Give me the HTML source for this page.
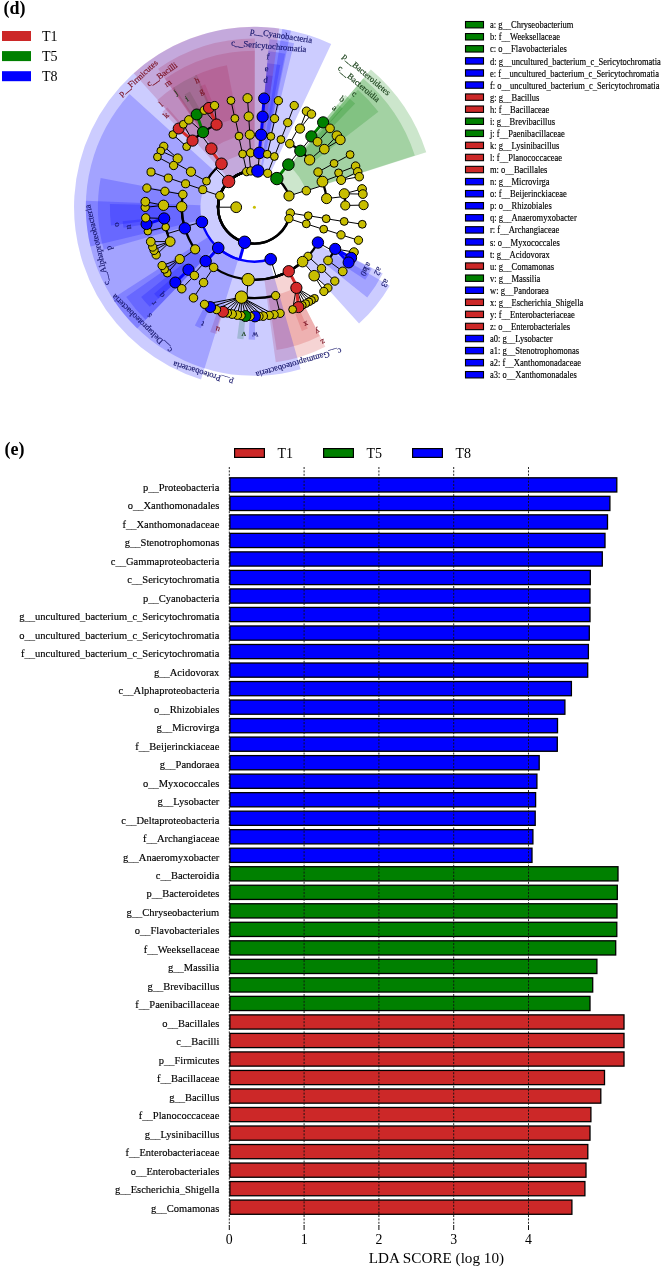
<!DOCTYPE html>
<html><head><meta charset="utf-8"><style>
html,body{margin:0;padding:0;background:#fff;}
body{width:663px;height:1267px;overflow:hidden;}
svg{display:block;}
text{font-family:"Liberation Serif",serif;}
.bl{font-size:10.5px;stroke:#000;stroke-width:0.15px;}
.tk{font-size:13.8px;}
.ax{font-size:15.2px;}
.lg{font-size:14px;}
.pl{font-size:18px;font-weight:bold;}
.rl{font-size:9.6px;stroke:#000;stroke-width:0.15px;}
.ll{font-size:14px;}
.cl{font-size:8.6px;}
</style></head><body>
<svg width="663" height="1267" viewBox="0 0 663 1267">
<rect width="663" height="1267" fill="#fff"/>
<path d="M337.78,104.23A132.5,132.5 0 0 1 342.72,108.42L326.85,126.17A108.7,108.7 0 0 0 322.81,122.72Z" fill="#008000" fill-opacity="0.2"/>
<path d="M266.18,75.22A132.5,132.5 0 0 1 272.61,75.96L269.34,99.53A108.7,108.7 0 0 0 264.06,98.93Z" fill="#0000ff" fill-opacity="0.2"/>
<path d="M199.24,86.73A132.5,132.5 0 0 1 205.19,84.18L214.03,106.27A108.7,108.7 0 0 0 209.15,108.37Z" fill="#d42a2a" fill-opacity="0.2"/>
<path d="M184.38,94.71A132.5,132.5 0 0 1 189.96,91.43L201.54,112.22A108.7,108.7 0 0 0 196.96,114.92Z" fill="#008000" fill-opacity="0.2"/>
<path d="M162.52,111.73A132.5,132.5 0 0 1 167.30,107.35L182.94,125.29A108.7,108.7 0 0 0 179.03,128.88Z" fill="#d42a2a" fill-opacity="0.2"/>
<path d="M123.50,227.70A132.5,132.5 0 0 1 122.65,221.28L146.32,218.75A108.7,108.7 0 0 0 147.01,224.02Z" fill="#0000ff" fill-opacity="0.2"/>
<path d="M158.45,298.57A132.5,132.5 0 0 1 154.10,293.78L172.11,278.23A108.7,108.7 0 0 0 175.68,282.16Z" fill="#0000ff" fill-opacity="0.2"/>
<path d="M200.72,328.34A132.5,132.5 0 0 1 194.87,325.57L205.56,304.31A108.7,108.7 0 0 0 210.36,306.58Z" fill="#0000ff" fill-opacity="0.2"/>
<path d="M216.32,334.11A132.5,132.5 0 0 1 210.17,332.10L218.12,309.67A108.7,108.7 0 0 0 223.16,311.32Z" fill="#d42a2a" fill-opacity="0.2"/>
<path d="M243.54,339.25A132.5,132.5 0 0 1 237.11,338.57L240.21,314.97A108.7,108.7 0 0 0 245.49,315.53Z" fill="#008000" fill-opacity="0.2"/>
<path d="M255.09,339.70A132.5,132.5 0 0 1 248.62,339.57L249.66,315.80A108.7,108.7 0 0 0 254.97,315.90Z" fill="#0000ff" fill-opacity="0.2"/>
<path d="M307.87,328.43A132.5,132.5 0 0 1 301.88,330.90L293.35,308.68A108.7,108.7 0 0 0 298.27,306.66Z" fill="#d42a2a" fill-opacity="0.2"/>
<path d="M368.68,274.25A132.5,132.5 0 0 1 365.27,279.75L345.36,266.72A108.7,108.7 0 0 0 348.16,262.21Z" fill="#0000ff" fill-opacity="0.2"/>
<path d="M371.82,268.59A132.5,132.5 0 0 1 368.68,274.25L348.16,262.21A108.7,108.7 0 0 0 350.73,257.56Z" fill="#0000ff" fill-opacity="0.2"/>
<path d="M345.34,94.90A144.5,144.5 0 0 1 355.14,103.61L317.42,142.39A90.4,90.4 0 0 0 311.29,136.95Z" fill="#008000" fill-opacity="0.2"/>
<path d="M267.25,63.27A144.5,144.5 0 0 1 280.24,65.03L270.56,118.26A90.4,90.4 0 0 0 262.44,117.16Z" fill="#0000ff" fill-opacity="0.2"/>
<path d="M194.82,75.55A144.5,144.5 0 0 1 226.95,65.33L237.23,118.45A90.4,90.4 0 0 0 217.13,124.84Z" fill="#d42a2a" fill-opacity="0.2"/>
<path d="M172.76,87.97A144.5,144.5 0 0 1 196.78,74.68L218.35,124.30A90.4,90.4 0 0 0 203.33,132.61Z" fill="#008000" fill-opacity="0.2"/>
<path d="M157.24,100.24A144.5,144.5 0 0 1 174.12,87.05L204.18,132.04A90.4,90.4 0 0 0 193.62,140.28Z" fill="#d42a2a" fill-opacity="0.2"/>
<path d="M111.06,225.44A144.5,144.5 0 0 1 109.93,204.05L164.02,205.23A90.4,90.4 0 0 0 164.72,218.61Z" fill="#0000ff" fill-opacity="0.2"/>
<path d="M149.76,306.85A144.5,144.5 0 0 1 141.16,296.96L183.55,263.35A90.4,90.4 0 0 0 188.93,269.54Z" fill="#0000ff" fill-opacity="0.2"/>
<path d="M319.89,336.01A144.5,144.5 0 0 1 276.63,349.98L268.31,296.52A90.4,90.4 0 0 0 295.37,287.78Z" fill="#d42a2a" fill-opacity="0.2"/>
<path d="M382.75,273.59A144.5,144.5 0 0 1 367.25,297.45L325.00,263.66A90.4,90.4 0 0 0 334.69,248.73Z" fill="#0000ff" fill-opacity="0.2"/>
<path d="M357.90,89.81A156.5,156.5 0 0 1 378.39,111.71L311.60,163.15A72.2,72.2 0 0 0 302.15,153.04Z" fill="#008000" fill-opacity="0.2"/>
<path d="M268.31,51.32A156.5,156.5 0 0 1 285.07,53.73L268.55,136.40A72.2,72.2 0 0 0 260.82,135.29Z" fill="#0000ff" fill-opacity="0.2"/>
<path d="M164.97,78.77A156.5,156.5 0 0 1 254.81,50.70L254.59,135.00A72.2,72.2 0 0 0 213.14,147.95Z" fill="#d42a2a" fill-opacity="0.2"/>
<path d="M103.78,249.68A156.5,156.5 0 0 1 100.65,178.01L183.47,193.73A72.2,72.2 0 0 0 184.91,226.80Z" fill="#0000ff" fill-opacity="0.2"/>
<path d="M145.59,319.68A156.5,156.5 0 0 1 126.28,297.08L195.29,248.66A72.2,72.2 0 0 0 204.20,259.09Z" fill="#0000ff" fill-opacity="0.2"/>
<path d="M325.33,346.70A156.5,156.5 0 0 1 275.77,362.23L264.26,278.72A72.2,72.2 0 0 0 287.12,271.56Z" fill="#d42a2a" fill-opacity="0.2"/>
<path d="M389.73,285.80A156.5,156.5 0 0 1 359.02,323.59L302.66,260.90A72.2,72.2 0 0 0 316.83,243.46Z" fill="#0000ff" fill-opacity="0.2"/>
<path d="M363.22,78.42A168.6,168.6 0 0 1 414.84,155.38L305.79,190.60A54.0,54.0 0 0 0 289.25,165.96Z" fill="#008000" fill-opacity="0.2"/>
<path d="M269.39,39.27A168.6,168.6 0 0 1 294.04,43.33L267.10,154.71A54.0,54.0 0 0 0 259.20,153.41Z" fill="#0000ff" fill-opacity="0.2"/>
<path d="M158.06,68.84A168.6,168.6 0 0 1 254.84,38.60L254.54,153.20A54.0,54.0 0 0 0 223.54,162.88Z" fill="#d42a2a" fill-opacity="0.2"/>
<path d="M90.46,246.56A168.6,168.6 0 0 1 129.50,93.95L214.40,170.93A54.0,54.0 0 0 0 201.89,219.81Z" fill="#0000ff" fill-opacity="0.2"/>
<path d="M137.17,328.38A168.6,168.6 0 0 1 112.60,298.41L208.98,236.41A54.0,54.0 0 0 0 216.85,246.01Z" fill="#0000ff" fill-opacity="0.2"/>
<path d="M300.59,369.35A168.6,168.6 0 0 1 85.92,200.73L200.44,205.13A54.0,54.0 0 0 0 269.19,259.13Z" fill="#0000ff" fill-opacity="0.2"/>
<path d="M370.84,69.41A180.4,180.4 0 0 1 426.26,152.35L288.60,196.29A35.9,35.9 0 0 0 277.57,179.78Z" fill="#008000" fill-opacity="0.2"/>
<path d="M282.31,28.97A180.4,180.4 0 0 1 331.21,43.97L269.69,174.72A35.9,35.9 0 0 0 259.95,171.73Z" fill="#0000ff" fill-opacity="0.2"/>
<path d="M133.69,73.14A180.4,180.4 0 0 1 279.19,28.51L259.33,171.64A35.9,35.9 0 0 0 230.38,180.52Z" fill="#d42a2a" fill-opacity="0.2"/>
<path d="M201.05,379.53A180.4,180.4 0 0 1 290.98,30.55L261.68,172.05A35.9,35.9 0 0 0 243.78,241.49Z" fill="#0000ff" fill-opacity="0.2"/>
<path d="M218.00,207.20A36.4,36.4 0 0 1 219.86,195.71" fill="none" stroke="#000" stroke-width="2.4"/>
<path d="M218.00,207.20A36.4,36.4 0 0 1 228.62,181.51" fill="none" stroke="#000" stroke-width="2.4"/>
<path d="M218.00,207.20A36.4,36.4 0 0 1 246.65,171.64" fill="none" stroke="#000" stroke-width="2.4"/>
<path d="M218.00,207.20A36.4,36.4 0 0 1 250.78,170.98" fill="none" stroke="#000" stroke-width="2.4"/>
<path d="M218.00,207.20A36.4,36.4 0 0 1 257.83,170.96" fill="none" stroke="#000" stroke-width="2.4"/>
<path d="M218.00,207.20A36.4,36.4 0 0 1 267.68,173.31" fill="none" stroke="#000" stroke-width="2.4"/>
<path d="M218.00,207.20A36.4,36.4 0 0 1 276.86,178.56" fill="none" stroke="#000" stroke-width="2.4"/>
<path d="M218.00,207.20A36.4,36.4 0 0 1 289.02,195.95" fill="none" stroke="#000" stroke-width="2.4"/>
<path d="M290.33,213.02A36.4,36.4 0 0 1 218.00,207.20" fill="none" stroke="#000" stroke-width="2.4"/>
<path d="M288.96,218.63A36.4,36.4 0 0 1 218.00,207.20" fill="none" stroke="#000" stroke-width="2.4"/>
<path d="M244.61,242.26A36.4,36.4 0 0 1 218.00,207.20" fill="none" stroke="#000" stroke-width="2.4"/>
<line x1="236.20" y1="207.20" x2="218.00" y2="207.20" stroke="#000" stroke-width="1.0"/>
<path d="M202.69,190.00A54.5,54.5 0 0 1 202.81,189.64" fill="none" stroke="#000" stroke-width="2.4"/>
<line x1="219.86" y1="195.71" x2="202.69" y2="190.00" stroke="#000" stroke-width="1.0"/>
<line x1="202.81" y1="189.64" x2="185.58" y2="183.77" stroke="#000" stroke-width="1.0"/>
<path d="M168.30,178.06A90.9,90.9 0 0 1 168.35,177.91" fill="none" stroke="#000" stroke-width="2.3"/>
<line x1="185.58" y1="183.77" x2="168.35" y2="177.91" stroke="#000" stroke-width="1.0"/>
<line x1="168.30" y1="178.06" x2="151.03" y2="172.01" stroke="#000" stroke-width="1.0"/>
<path d="M206.50,181.19A54.5,54.5 0 0 1 215.80,168.73" fill="none" stroke="#000" stroke-width="2.4"/>
<path d="M215.80,168.73A54.5,54.5 0 0 1 221.45,163.79" fill="none" stroke="#000" stroke-width="2.4"/>
<line x1="228.62" y1="181.51" x2="215.80" y2="168.73" stroke="#000" stroke-width="1.0"/>
<path d="M190.51,172.51A72.7,72.7 0 0 1 190.94,171.73" fill="none" stroke="#000" stroke-width="2.3"/>
<line x1="206.50" y1="181.19" x2="190.51" y2="172.51" stroke="#000" stroke-width="1.0"/>
<path d="M175.05,162.85A90.9,90.9 0 0 1 177.65,158.49" fill="none" stroke="#000" stroke-width="2.3"/>
<path d="M173.62,165.51A90.9,90.9 0 0 1 175.05,162.85" fill="none" stroke="#000" stroke-width="2.3"/>
<line x1="190.94" y1="171.73" x2="175.05" y2="162.85" stroke="#000" stroke-width="1.0"/>
<line x1="177.65" y1="158.49" x2="163.76" y2="146.29" stroke="#000" stroke-width="1.0"/>
<line x1="177.65" y1="158.49" x2="160.80" y2="150.96" stroke="#000" stroke-width="1.0"/>
<line x1="173.62" y1="165.51" x2="157.45" y2="156.95" stroke="#000" stroke-width="1.0"/>
<path d="M210.45,149.29A72.7,72.7 0 0 1 211.36,148.61" fill="none" stroke="#d42a2a" stroke-width="2.3"/>
<line x1="221.45" y1="163.79" x2="210.45" y2="149.29" stroke="#d42a2a" stroke-width="3.0"/>
<path d="M186.64,146.61A90.9,90.9 0 0 1 200.59,133.94" fill="none" stroke="#000" stroke-width="2.3"/>
<path d="M192.52,140.61A90.9,90.9 0 0 1 200.59,133.94" fill="none" stroke="#000" stroke-width="2.3"/>
<path d="M200.59,133.94A90.9,90.9 0 0 1 203.04,132.20" fill="none" stroke="#000" stroke-width="2.3"/>
<path d="M200.59,133.94A90.9,90.9 0 0 1 216.56,124.55" fill="none" stroke="#000" stroke-width="2.3"/>
<line x1="211.36" y1="148.61" x2="200.59" y2="133.94" stroke="#000" stroke-width="1.0"/>
<line x1="186.64" y1="146.61" x2="172.87" y2="134.56" stroke="#000" stroke-width="1.0"/>
<line x1="192.52" y1="140.61" x2="178.68" y2="128.52" stroke="#d42a2a" stroke-width="3.0"/>
<line x1="192.52" y1="140.61" x2="183.34" y2="124.29" stroke="#000" stroke-width="1.0"/>
<line x1="203.04" y1="132.20" x2="188.83" y2="119.87" stroke="#000" stroke-width="1.0"/>
<line x1="203.04" y1="132.20" x2="196.69" y2="114.49" stroke="#008000" stroke-width="3.0"/>
<line x1="216.56" y1="124.55" x2="204.32" y2="110.16" stroke="#000" stroke-width="1.0"/>
<line x1="216.56" y1="124.55" x2="208.94" y2="107.91" stroke="#d42a2a" stroke-width="3.0"/>
<line x1="216.56" y1="124.55" x2="214.56" y2="105.53" stroke="#000" stroke-width="1.0"/>
<path d="M242.60,153.99A54.5,54.5 0 0 1 242.79,153.95" fill="none" stroke="#000" stroke-width="2.4"/>
<line x1="246.65" y1="171.64" x2="242.79" y2="153.95" stroke="#000" stroke-width="1.0"/>
<path d="M238.66,136.22A72.7,72.7 0 0 1 239.04,136.14" fill="none" stroke="#000" stroke-width="2.3"/>
<line x1="242.60" y1="153.99" x2="238.66" y2="136.22" stroke="#000" stroke-width="1.0"/>
<path d="M234.88,118.42A90.9,90.9 0 0 1 235.19,118.35" fill="none" stroke="#000" stroke-width="2.3"/>
<line x1="239.04" y1="136.14" x2="235.19" y2="118.35" stroke="#000" stroke-width="1.0"/>
<line x1="234.88" y1="118.42" x2="230.95" y2="100.55" stroke="#000" stroke-width="1.0"/>
<path d="M248.99,152.97A54.5,54.5 0 0 1 250.60,152.83" fill="none" stroke="#000" stroke-width="2.4"/>
<line x1="250.78" y1="170.98" x2="248.99" y2="152.97" stroke="#000" stroke-width="1.0"/>
<path d="M249.33,134.68A72.7,72.7 0 0 1 249.84,134.64" fill="none" stroke="#000" stroke-width="2.3"/>
<line x1="250.60" y1="152.83" x2="249.33" y2="134.68" stroke="#000" stroke-width="1.0"/>
<line x1="249.84" y1="134.64" x2="248.69" y2="116.48" stroke="#000" stroke-width="1.0"/>
<line x1="248.69" y1="116.48" x2="247.54" y2="98.22" stroke="#000" stroke-width="1.0"/>
<path d="M259.34,152.92A54.5,54.5 0 0 1 259.53,152.94" fill="none" stroke="#000" stroke-width="2.4"/>
<path d="M259.53,152.94A54.5,54.5 0 0 1 267.22,154.23" fill="none" stroke="#000" stroke-width="2.4"/>
<line x1="257.83" y1="170.96" x2="259.53" y2="152.94" stroke="#000" stroke-width="1.0"/>
<path d="M260.99,134.80A72.7,72.7 0 0 1 261.12,134.81" fill="none" stroke="#0000ff" stroke-width="2.3"/>
<line x1="259.34" y1="152.92" x2="260.99" y2="134.80" stroke="#0000ff" stroke-width="3.0"/>
<path d="M262.64,116.67A90.9,90.9 0 0 1 262.80,116.69" fill="none" stroke="#0000ff" stroke-width="2.3"/>
<line x1="261.12" y1="134.81" x2="262.80" y2="116.69" stroke="#0000ff" stroke-width="3.0"/>
<line x1="262.64" y1="116.67" x2="264.11" y2="98.43" stroke="#0000ff" stroke-width="3.0"/>
<path d="M270.88,136.39A72.7,72.7 0 0 1 271.49,136.54" fill="none" stroke="#000" stroke-width="2.3"/>
<line x1="267.22" y1="154.23" x2="271.49" y2="136.54" stroke="#000" stroke-width="1.0"/>
<path d="M274.54,118.56A90.9,90.9 0 0 1 275.00,118.67" fill="none" stroke="#000" stroke-width="2.3"/>
<line x1="270.88" y1="136.39" x2="275.00" y2="118.67" stroke="#000" stroke-width="1.0"/>
<line x1="274.54" y1="118.56" x2="278.41" y2="100.67" stroke="#000" stroke-width="1.0"/>
<path d="M274.29,156.46A54.5,54.5 0 0 1 274.37,156.49" fill="none" stroke="#000" stroke-width="2.4"/>
<line x1="267.68" y1="173.31" x2="274.29" y2="156.46" stroke="#000" stroke-width="1.0"/>
<path d="M280.93,139.51A72.7,72.7 0 0 1 281.04,139.56" fill="none" stroke="#000" stroke-width="2.3"/>
<line x1="274.37" y1="156.49" x2="281.04" y2="139.56" stroke="#000" stroke-width="1.0"/>
<path d="M287.57,122.57A90.9,90.9 0 0 1 287.71,122.63" fill="none" stroke="#000" stroke-width="2.3"/>
<line x1="280.93" y1="139.51" x2="287.57" y2="122.57" stroke="#000" stroke-width="1.0"/>
<line x1="287.71" y1="122.63" x2="294.24" y2="105.53" stroke="#000" stroke-width="1.0"/>
<path d="M288.03,164.31A54.5,54.5 0 0 1 288.40,164.61" fill="none" stroke="#008000" stroke-width="2.4"/>
<line x1="276.86" y1="178.56" x2="288.03" y2="164.31" stroke="#008000" stroke-width="3.0"/>
<path d="M289.76,143.68A72.7,72.7 0 0 1 299.76,150.38" fill="none" stroke="#000" stroke-width="2.3"/>
<path d="M299.76,150.38A72.7,72.7 0 0 1 300.35,150.86" fill="none" stroke="#000" stroke-width="2.3"/>
<path d="M299.76,150.38A72.7,72.7 0 0 1 309.60,159.89" fill="none" stroke="#000" stroke-width="2.3"/>
<line x1="288.40" y1="164.61" x2="299.76" y2="150.38" stroke="#000" stroke-width="1.0"/>
<path d="M298.61,127.77A90.9,90.9 0 0 1 299.99,128.56" fill="none" stroke="#000" stroke-width="2.3"/>
<line x1="289.76" y1="143.68" x2="298.61" y2="127.77" stroke="#000" stroke-width="1.0"/>
<line x1="299.99" y1="128.56" x2="306.51" y2="111.23" stroke="#000" stroke-width="1.0"/>
<line x1="299.99" y1="128.56" x2="311.46" y2="114.09" stroke="#000" stroke-width="1.0"/>
<path d="M311.36,136.36A90.9,90.9 0 0 1 311.85,136.76" fill="none" stroke="#000" stroke-width="2.3"/>
<path d="M311.85,136.76A90.9,90.9 0 0 1 317.54,141.81" fill="none" stroke="#000" stroke-width="2.3"/>
<line x1="300.35" y1="150.86" x2="311.85" y2="136.76" stroke="#000" stroke-width="1.0"/>
<line x1="311.36" y1="136.36" x2="323.12" y2="122.34" stroke="#008000" stroke-width="3.0"/>
<line x1="317.54" y1="141.81" x2="329.98" y2="128.38" stroke="#000" stroke-width="1.0"/>
<path d="M323.42,148.04A90.9,90.9 0 0 1 324.34,149.14" fill="none" stroke="#000" stroke-width="2.3"/>
<line x1="309.60" y1="159.89" x2="323.42" y2="148.04" stroke="#000" stroke-width="1.0"/>
<line x1="324.34" y1="149.14" x2="336.94" y2="135.70" stroke="#000" stroke-width="1.0"/>
<line x1="324.34" y1="149.14" x2="340.33" y2="139.82" stroke="#000" stroke-width="1.0"/>
<path d="M306.23,190.36A54.5,54.5 0 0 1 306.35,190.72" fill="none" stroke="#000" stroke-width="2.4"/>
<line x1="289.02" y1="195.95" x2="306.23" y2="190.36" stroke="#000" stroke-width="1.0"/>
<path d="M318.05,172.07A72.7,72.7 0 0 1 323.70,185.22" fill="none" stroke="#000" stroke-width="2.3"/>
<path d="M322.45,181.62A72.7,72.7 0 0 1 323.70,185.22" fill="none" stroke="#000" stroke-width="2.3"/>
<path d="M323.70,185.22A72.7,72.7 0 0 1 326.59,198.59" fill="none" stroke="#000" stroke-width="2.3"/>
<line x1="306.35" y1="190.72" x2="323.70" y2="185.22" stroke="#000" stroke-width="1.0"/>
<path d="M333.98,163.27A90.9,90.9 0 0 1 334.06,163.41" fill="none" stroke="#000" stroke-width="2.3"/>
<line x1="318.05" y1="172.07" x2="333.98" y2="163.27" stroke="#000" stroke-width="1.0"/>
<line x1="334.06" y1="163.41" x2="350.09" y2="154.59" stroke="#000" stroke-width="1.0"/>
<path d="M338.56,172.85A90.9,90.9 0 0 1 339.49,175.22" fill="none" stroke="#000" stroke-width="2.3"/>
<path d="M339.49,175.22A90.9,90.9 0 0 1 341.14,180.02" fill="none" stroke="#000" stroke-width="2.3"/>
<line x1="322.45" y1="181.62" x2="339.49" y2="175.22" stroke="#000" stroke-width="1.0"/>
<line x1="338.56" y1="172.85" x2="355.58" y2="166.12" stroke="#000" stroke-width="1.0"/>
<line x1="341.14" y1="180.02" x2="357.71" y2="171.83" stroke="#000" stroke-width="1.0"/>
<line x1="341.14" y1="180.02" x2="359.26" y2="176.73" stroke="#000" stroke-width="1.0"/>
<path d="M344.30,193.76A90.9,90.9 0 0 1 344.66,196.44" fill="none" stroke="#000" stroke-width="2.3"/>
<path d="M344.66,196.44A90.9,90.9 0 0 1 345.28,205.45" fill="none" stroke="#000" stroke-width="2.3"/>
<line x1="326.59" y1="198.59" x2="344.66" y2="196.44" stroke="#000" stroke-width="1.0"/>
<line x1="344.30" y1="193.76" x2="362.07" y2="188.99" stroke="#000" stroke-width="1.0"/>
<line x1="344.30" y1="193.76" x2="362.81" y2="194.08" stroke="#000" stroke-width="1.0"/>
<line x1="345.28" y1="205.45" x2="363.58" y2="205.10" stroke="#000" stroke-width="1.0"/>
<path d="M308.23,215.73A54.5,54.5 0 0 1 308.20,215.91" fill="none" stroke="#000" stroke-width="2.4"/>
<line x1="290.33" y1="213.02" x2="308.20" y2="215.91" stroke="#000" stroke-width="1.0"/>
<path d="M326.20,218.57A72.7,72.7 0 0 1 326.18,218.70" fill="none" stroke="#000" stroke-width="2.3"/>
<line x1="308.23" y1="215.73" x2="326.20" y2="218.57" stroke="#000" stroke-width="1.0"/>
<path d="M344.18,221.42A90.9,90.9 0 0 1 344.16,221.58" fill="none" stroke="#000" stroke-width="2.3"/>
<line x1="326.18" y1="218.70" x2="344.16" y2="221.58" stroke="#000" stroke-width="1.0"/>
<line x1="344.18" y1="221.42" x2="362.26" y2="224.28" stroke="#000" stroke-width="1.0"/>
<path d="M306.29,223.86A54.5,54.5 0 0 1 306.14,224.31" fill="none" stroke="#000" stroke-width="2.4"/>
<line x1="288.96" y1="218.63" x2="306.14" y2="224.31" stroke="#000" stroke-width="1.0"/>
<path d="M323.70,229.18A72.7,72.7 0 0 1 323.62,229.42" fill="none" stroke="#000" stroke-width="2.3"/>
<line x1="306.29" y1="223.86" x2="323.62" y2="229.42" stroke="#000" stroke-width="1.0"/>
<path d="M341.05,234.69A90.9,90.9 0 0 1 341.00,234.84" fill="none" stroke="#000" stroke-width="2.3"/>
<line x1="323.70" y1="229.18" x2="341.05" y2="234.69" stroke="#000" stroke-width="1.0"/>
<line x1="341.00" y1="234.84" x2="358.49" y2="240.22" stroke="#000" stroke-width="1.0"/>
<path d="M270.70,259.21A54.5,54.5 0 0 1 239.74,259.69" fill="none" stroke="#0000ff" stroke-width="2.4"/>
<path d="M239.74,259.69A54.5,54.5 0 0 1 218.22,247.95" fill="none" stroke="#0000ff" stroke-width="2.4"/>
<path d="M239.74,259.69A54.5,54.5 0 0 1 201.93,221.95" fill="none" stroke="#0000ff" stroke-width="2.4"/>
<line x1="244.61" y1="242.26" x2="239.74" y2="259.69" stroke="#0000ff" stroke-width="3.0"/>
<path d="M317.92,242.56A72.7,72.7 0 0 1 276.14,276.57" fill="none" stroke="#000" stroke-width="2.3"/>
<path d="M308.00,256.32A72.7,72.7 0 0 1 276.14,276.57" fill="none" stroke="#000" stroke-width="2.3"/>
<path d="M302.57,261.65A72.7,72.7 0 0 1 276.14,276.57" fill="none" stroke="#000" stroke-width="2.3"/>
<path d="M288.75,271.27A72.7,72.7 0 0 1 276.14,276.57" fill="none" stroke="#000" stroke-width="2.3"/>
<path d="M276.14,276.57A72.7,72.7 0 0 1 248.19,279.63" fill="none" stroke="#000" stroke-width="2.3"/>
<path d="M276.14,276.57A72.7,72.7 0 0 1 213.64,267.40" fill="none" stroke="#000" stroke-width="2.3"/>
<line x1="270.70" y1="259.21" x2="276.14" y2="276.57" stroke="#000" stroke-width="1.0"/>
<path d="M335.18,248.89A90.9,90.9 0 0 1 333.83,251.41" fill="none" stroke="#000" stroke-width="2.3"/>
<path d="M333.83,251.41A90.9,90.9 0 0 1 328.03,260.50" fill="none" stroke="#000" stroke-width="2.3"/>
<line x1="317.92" y1="242.56" x2="333.83" y2="251.41" stroke="#000" stroke-width="1.0"/>
<line x1="335.18" y1="248.89" x2="353.93" y2="252.14" stroke="#000" stroke-width="1.0"/>
<line x1="335.18" y1="248.89" x2="351.17" y2="257.79" stroke="#0000ff" stroke-width="3.0"/>
<line x1="335.18" y1="248.89" x2="348.59" y2="262.46" stroke="#0000ff" stroke-width="3.0"/>
<line x1="328.03" y1="260.50" x2="342.74" y2="271.39" stroke="#000" stroke-width="1.0"/>
<path d="M321.53,268.49A90.9,90.9 0 0 1 321.42,268.61" fill="none" stroke="#000" stroke-width="2.3"/>
<line x1="308.00" y1="256.32" x2="321.42" y2="268.61" stroke="#000" stroke-width="1.0"/>
<line x1="321.53" y1="268.49" x2="334.78" y2="281.11" stroke="#000" stroke-width="1.0"/>
<path d="M314.63,275.28A90.9,90.9 0 0 1 314.16,275.70" fill="none" stroke="#000" stroke-width="2.3"/>
<line x1="302.57" y1="261.65" x2="314.63" y2="275.28" stroke="#000" stroke-width="1.0"/>
<line x1="314.16" y1="275.70" x2="327.89" y2="287.97" stroke="#000" stroke-width="1.0"/>
<line x1="314.16" y1="275.70" x2="323.86" y2="291.46" stroke="#000" stroke-width="1.0"/>
<path d="M297.35,287.31A90.9,90.9 0 0 1 296.37,287.83" fill="none" stroke="#d42a2a" stroke-width="2.3"/>
<line x1="288.75" y1="271.27" x2="297.35" y2="287.31" stroke="#d42a2a" stroke-width="3.0"/>
<line x1="296.37" y1="287.83" x2="314.51" y2="298.37" stroke="#000" stroke-width="1.0"/>
<line x1="296.37" y1="287.83" x2="311.46" y2="300.31" stroke="#000" stroke-width="1.0"/>
<line x1="296.37" y1="287.83" x2="308.83" y2="301.87" stroke="#000" stroke-width="1.0"/>
<line x1="296.37" y1="287.83" x2="305.67" y2="303.62" stroke="#000" stroke-width="1.0"/>
<line x1="296.37" y1="287.83" x2="302.27" y2="305.35" stroke="#000" stroke-width="1.0"/>
<line x1="296.37" y1="287.83" x2="298.47" y2="307.11" stroke="#d42a2a" stroke-width="3.0"/>
<line x1="296.37" y1="287.83" x2="292.64" y2="309.48" stroke="#000" stroke-width="1.0"/>
<path d="M275.62,295.59A90.9,90.9 0 0 1 246.64,297.77" fill="none" stroke="#000" stroke-width="2.3"/>
<path d="M246.64,297.77A90.9,90.9 0 0 1 241.44,297.17" fill="none" stroke="#000" stroke-width="2.3"/>
<line x1="248.19" y1="279.63" x2="246.64" y2="297.77" stroke="#000" stroke-width="1.0"/>
<line x1="275.62" y1="295.59" x2="280.08" y2="313.34" stroke="#000" stroke-width="1.0"/>
<line x1="241.44" y1="297.17" x2="274.11" y2="314.61" stroke="#000" stroke-width="1.0"/>
<line x1="241.44" y1="297.17" x2="269.22" y2="315.39" stroke="#000" stroke-width="1.0"/>
<line x1="241.44" y1="297.17" x2="263.16" y2="316.05" stroke="#000" stroke-width="1.0"/>
<line x1="241.44" y1="297.17" x2="258.97" y2="316.30" stroke="#000" stroke-width="1.0"/>
<line x1="241.44" y1="297.17" x2="254.97" y2="316.40" stroke="#000" stroke-width="1.0"/>
<line x1="241.44" y1="297.17" x2="250.21" y2="316.32" stroke="#000" stroke-width="1.0"/>
<line x1="241.44" y1="297.17" x2="245.45" y2="316.03" stroke="#000" stroke-width="1.0"/>
<line x1="241.44" y1="297.17" x2="241.09" y2="315.59" stroke="#000" stroke-width="1.0"/>
<line x1="241.44" y1="297.17" x2="237.32" y2="315.06" stroke="#000" stroke-width="1.0"/>
<line x1="241.44" y1="297.17" x2="232.07" y2="314.09" stroke="#000" stroke-width="1.0"/>
<line x1="241.44" y1="297.17" x2="227.43" y2="313.02" stroke="#000" stroke-width="1.0"/>
<line x1="241.44" y1="297.17" x2="223.02" y2="311.79" stroke="#000" stroke-width="1.0"/>
<line x1="241.44" y1="297.17" x2="216.51" y2="309.62" stroke="#000" stroke-width="1.0"/>
<line x1="241.44" y1="297.17" x2="210.16" y2="307.04" stroke="#000" stroke-width="1.0"/>
<line x1="241.44" y1="297.17" x2="204.48" y2="304.32" stroke="#000" stroke-width="1.0"/>
<path d="M203.57,282.56A90.9,90.9 0 0 1 203.44,282.47" fill="none" stroke="#000" stroke-width="2.3"/>
<line x1="213.64" y1="267.40" x2="203.44" y2="282.47" stroke="#000" stroke-width="1.0"/>
<line x1="203.57" y1="282.56" x2="193.49" y2="297.84" stroke="#000" stroke-width="1.0"/>
<path d="M206.13,261.56A72.7,72.7 0 0 1 205.66,261.14" fill="none" stroke="#0000ff" stroke-width="2.3"/>
<line x1="218.22" y1="247.95" x2="206.13" y2="261.56" stroke="#0000ff" stroke-width="3.0"/>
<path d="M193.46,274.65A90.9,90.9 0 0 1 188.46,269.77" fill="none" stroke="#000" stroke-width="2.3"/>
<path d="M194.41,275.49A90.9,90.9 0 0 1 193.46,274.65" fill="none" stroke="#000" stroke-width="2.3"/>
<line x1="205.66" y1="261.14" x2="193.46" y2="274.65" stroke="#000" stroke-width="1.0"/>
<line x1="188.46" y1="269.77" x2="175.32" y2="282.51" stroke="#0000ff" stroke-width="3.0"/>
<line x1="194.41" y1="275.49" x2="181.76" y2="288.73" stroke="#000" stroke-width="1.0"/>
<path d="M195.14,249.31A72.7,72.7 0 0 1 184.41,226.87" fill="none" stroke="#000" stroke-width="2.3"/>
<path d="M184.84,228.33A72.7,72.7 0 0 1 184.41,226.87" fill="none" stroke="#000" stroke-width="2.3"/>
<path d="M184.41,226.87A72.7,72.7 0 0 1 181.70,206.69" fill="none" stroke="#000" stroke-width="2.3"/>
<path d="M184.41,226.87A72.7,72.7 0 0 1 182.83,194.45" fill="none" stroke="#000" stroke-width="2.3"/>
<line x1="201.93" y1="221.95" x2="184.41" y2="226.87" stroke="#000" stroke-width="1.0"/>
<path d="M180.30,259.86A90.9,90.9 0 0 1 179.76,259.08" fill="none" stroke="#000" stroke-width="2.3"/>
<line x1="195.14" y1="249.31" x2="180.30" y2="259.86" stroke="#000" stroke-width="1.0"/>
<line x1="179.76" y1="259.08" x2="167.30" y2="273.07" stroke="#000" stroke-width="1.0"/>
<line x1="179.76" y1="259.08" x2="164.62" y2="269.37" stroke="#000" stroke-width="1.0"/>
<line x1="179.76" y1="259.08" x2="162.10" y2="265.55" stroke="#000" stroke-width="1.0"/>
<path d="M170.24,241.55A90.9,90.9 0 0 1 167.43,233.62" fill="none" stroke="#000" stroke-width="2.3"/>
<path d="M167.43,233.62A90.9,90.9 0 0 1 165.69,227.03" fill="none" stroke="#000" stroke-width="2.3"/>
<path d="M167.43,233.62A90.9,90.9 0 0 1 164.20,218.44" fill="none" stroke="#000" stroke-width="2.3"/>
<line x1="184.84" y1="228.33" x2="167.43" y2="233.62" stroke="#000" stroke-width="1.0"/>
<line x1="170.24" y1="241.55" x2="156.17" y2="254.90" stroke="#000" stroke-width="1.0"/>
<line x1="170.24" y1="241.55" x2="154.11" y2="250.39" stroke="#000" stroke-width="1.0"/>
<line x1="170.24" y1="241.55" x2="152.73" y2="247.04" stroke="#000" stroke-width="1.0"/>
<line x1="170.24" y1="241.55" x2="150.78" y2="241.67" stroke="#000" stroke-width="1.0"/>
<line x1="165.69" y1="227.03" x2="147.87" y2="231.21" stroke="#000" stroke-width="1.0"/>
<line x1="164.20" y1="218.44" x2="146.51" y2="224.09" stroke="#0000ff" stroke-width="3.0"/>
<line x1="164.20" y1="218.44" x2="145.72" y2="217.86" stroke="#000" stroke-width="1.0"/>
<path d="M163.50,206.57A90.9,90.9 0 0 1 163.52,205.30" fill="none" stroke="#000" stroke-width="2.3"/>
<line x1="181.70" y1="206.69" x2="163.50" y2="206.57" stroke="#000" stroke-width="1.0"/>
<line x1="163.52" y1="205.30" x2="145.20" y2="207.39" stroke="#000" stroke-width="1.0"/>
<line x1="163.52" y1="205.30" x2="145.34" y2="201.68" stroke="#000" stroke-width="1.0"/>
<line x1="182.83" y1="194.45" x2="164.91" y2="191.26" stroke="#000" stroke-width="1.0"/>
<line x1="164.91" y1="191.26" x2="146.89" y2="188.05" stroke="#000" stroke-width="1.0"/>
<circle cx="151.03" cy="172.01" r="4.02" fill="#c8be00" stroke="#000" stroke-width="1.0"/>
<circle cx="163.76" cy="146.29" r="4.14" fill="#c8be00" stroke="#000" stroke-width="1.0"/>
<circle cx="160.80" cy="150.96" r="3.91" fill="#c8be00" stroke="#000" stroke-width="1.0"/>
<circle cx="157.45" cy="156.95" r="3.91" fill="#c8be00" stroke="#000" stroke-width="1.0"/>
<circle cx="172.87" cy="134.56" r="3.91" fill="#c8be00" stroke="#000" stroke-width="1.0"/>
<circle cx="178.68" cy="128.52" r="5.50" fill="#d42a2a" stroke="#000" stroke-width="1.0"/>
<circle cx="183.34" cy="124.29" r="3.91" fill="#c8be00" stroke="#000" stroke-width="1.0"/>
<circle cx="188.83" cy="119.87" r="4.25" fill="#c8be00" stroke="#000" stroke-width="1.0"/>
<circle cx="196.69" cy="114.49" r="5.50" fill="#008000" stroke="#000" stroke-width="1.0"/>
<circle cx="204.32" cy="110.16" r="4.25" fill="#c8be00" stroke="#000" stroke-width="1.0"/>
<circle cx="208.94" cy="107.91" r="5.50" fill="#d42a2a" stroke="#000" stroke-width="1.0"/>
<circle cx="214.56" cy="105.53" r="4.14" fill="#c8be00" stroke="#000" stroke-width="1.0"/>
<circle cx="230.95" cy="100.55" r="3.91" fill="#c8be00" stroke="#000" stroke-width="1.0"/>
<circle cx="247.54" cy="98.22" r="4.60" fill="#c8be00" stroke="#000" stroke-width="1.0"/>
<circle cx="264.11" cy="98.43" r="5.50" fill="#0000ff" stroke="#000" stroke-width="1.0"/>
<circle cx="278.41" cy="100.67" r="4.14" fill="#c8be00" stroke="#000" stroke-width="1.0"/>
<circle cx="294.24" cy="105.53" r="4.14" fill="#c8be00" stroke="#000" stroke-width="1.0"/>
<circle cx="306.51" cy="111.23" r="4.25" fill="#c8be00" stroke="#000" stroke-width="1.0"/>
<circle cx="311.46" cy="114.09" r="4.25" fill="#c8be00" stroke="#000" stroke-width="1.0"/>
<circle cx="323.12" cy="122.34" r="5.60" fill="#008000" stroke="#000" stroke-width="1.0"/>
<circle cx="329.98" cy="128.38" r="4.37" fill="#c8be00" stroke="#000" stroke-width="1.0"/>
<circle cx="336.94" cy="135.70" r="4.83" fill="#c8be00" stroke="#000" stroke-width="1.0"/>
<circle cx="340.33" cy="139.82" r="4.83" fill="#c8be00" stroke="#000" stroke-width="1.0"/>
<circle cx="350.09" cy="154.59" r="3.91" fill="#c8be00" stroke="#000" stroke-width="1.0"/>
<circle cx="355.58" cy="166.12" r="4.25" fill="#c8be00" stroke="#000" stroke-width="1.0"/>
<circle cx="357.71" cy="171.83" r="4.25" fill="#c8be00" stroke="#000" stroke-width="1.0"/>
<circle cx="359.26" cy="176.73" r="4.25" fill="#c8be00" stroke="#000" stroke-width="1.0"/>
<circle cx="362.07" cy="188.99" r="4.37" fill="#c8be00" stroke="#000" stroke-width="1.0"/>
<circle cx="362.81" cy="194.08" r="4.37" fill="#c8be00" stroke="#000" stroke-width="1.0"/>
<circle cx="363.58" cy="205.10" r="4.60" fill="#c8be00" stroke="#000" stroke-width="1.0"/>
<circle cx="362.26" cy="224.28" r="3.91" fill="#c8be00" stroke="#000" stroke-width="1.0"/>
<circle cx="358.49" cy="240.22" r="4.14" fill="#c8be00" stroke="#000" stroke-width="1.0"/>
<circle cx="353.93" cy="252.14" r="4.37" fill="#c8be00" stroke="#000" stroke-width="1.0"/>
<circle cx="351.17" cy="257.79" r="5.50" fill="#0000ff" stroke="#000" stroke-width="1.0"/>
<circle cx="348.59" cy="262.46" r="5.50" fill="#0000ff" stroke="#000" stroke-width="1.0"/>
<circle cx="342.74" cy="271.39" r="4.37" fill="#c8be00" stroke="#000" stroke-width="1.0"/>
<circle cx="334.78" cy="281.11" r="4.14" fill="#c8be00" stroke="#000" stroke-width="1.0"/>
<circle cx="327.89" cy="287.97" r="4.14" fill="#c8be00" stroke="#000" stroke-width="1.0"/>
<circle cx="323.86" cy="291.46" r="4.14" fill="#c8be00" stroke="#000" stroke-width="1.0"/>
<circle cx="314.51" cy="298.37" r="3.91" fill="#c8be00" stroke="#000" stroke-width="1.0"/>
<circle cx="311.46" cy="300.31" r="3.91" fill="#c8be00" stroke="#000" stroke-width="1.0"/>
<circle cx="308.83" cy="301.87" r="3.91" fill="#c8be00" stroke="#000" stroke-width="1.0"/>
<circle cx="305.67" cy="303.62" r="3.91" fill="#c8be00" stroke="#000" stroke-width="1.0"/>
<circle cx="302.27" cy="305.35" r="3.91" fill="#c8be00" stroke="#000" stroke-width="1.0"/>
<circle cx="298.47" cy="307.11" r="5.50" fill="#d42a2a" stroke="#000" stroke-width="1.0"/>
<circle cx="292.64" cy="309.48" r="3.91" fill="#c8be00" stroke="#000" stroke-width="1.0"/>
<circle cx="280.08" cy="313.34" r="4.14" fill="#c8be00" stroke="#000" stroke-width="1.0"/>
<circle cx="274.11" cy="314.61" r="4.14" fill="#c8be00" stroke="#000" stroke-width="1.0"/>
<circle cx="269.22" cy="315.39" r="4.14" fill="#c8be00" stroke="#000" stroke-width="1.0"/>
<circle cx="263.16" cy="316.05" r="4.37" fill="#c8be00" stroke="#000" stroke-width="1.0"/>
<circle cx="258.97" cy="316.30" r="4.14" fill="#c8be00" stroke="#000" stroke-width="1.0"/>
<circle cx="254.97" cy="316.40" r="5.50" fill="#0000ff" stroke="#000" stroke-width="1.0"/>
<circle cx="250.21" cy="316.32" r="4.14" fill="#c8be00" stroke="#000" stroke-width="1.0"/>
<circle cx="245.45" cy="316.03" r="5.50" fill="#008000" stroke="#000" stroke-width="1.0"/>
<circle cx="241.09" cy="315.59" r="4.14" fill="#c8be00" stroke="#000" stroke-width="1.0"/>
<circle cx="237.32" cy="315.06" r="4.37" fill="#c8be00" stroke="#000" stroke-width="1.0"/>
<circle cx="232.07" cy="314.09" r="4.37" fill="#c8be00" stroke="#000" stroke-width="1.0"/>
<circle cx="227.43" cy="313.02" r="4.14" fill="#c8be00" stroke="#000" stroke-width="1.0"/>
<circle cx="223.02" cy="311.79" r="5.50" fill="#d42a2a" stroke="#000" stroke-width="1.0"/>
<circle cx="216.51" cy="309.62" r="4.14" fill="#c8be00" stroke="#000" stroke-width="1.0"/>
<circle cx="210.16" cy="307.04" r="5.50" fill="#0000ff" stroke="#000" stroke-width="1.0"/>
<circle cx="204.48" cy="304.32" r="4.14" fill="#c8be00" stroke="#000" stroke-width="1.0"/>
<circle cx="193.49" cy="297.84" r="4.25" fill="#c8be00" stroke="#000" stroke-width="1.0"/>
<circle cx="175.32" cy="282.51" r="5.50" fill="#0000ff" stroke="#000" stroke-width="1.0"/>
<circle cx="181.76" cy="288.73" r="4.25" fill="#c8be00" stroke="#000" stroke-width="1.0"/>
<circle cx="167.30" cy="273.07" r="3.91" fill="#c8be00" stroke="#000" stroke-width="1.0"/>
<circle cx="164.62" cy="269.37" r="3.91" fill="#c8be00" stroke="#000" stroke-width="1.0"/>
<circle cx="162.10" cy="265.55" r="4.14" fill="#c8be00" stroke="#000" stroke-width="1.0"/>
<circle cx="156.17" cy="254.90" r="4.14" fill="#c8be00" stroke="#000" stroke-width="1.0"/>
<circle cx="154.11" cy="250.39" r="4.14" fill="#c8be00" stroke="#000" stroke-width="1.0"/>
<circle cx="152.73" cy="247.04" r="4.14" fill="#c8be00" stroke="#000" stroke-width="1.0"/>
<circle cx="150.78" cy="241.67" r="4.37" fill="#c8be00" stroke="#000" stroke-width="1.0"/>
<circle cx="147.87" cy="231.21" r="3.79" fill="#c8be00" stroke="#000" stroke-width="1.0"/>
<circle cx="146.51" cy="224.09" r="5.50" fill="#0000ff" stroke="#000" stroke-width="1.0"/>
<circle cx="145.72" cy="217.86" r="4.14" fill="#c8be00" stroke="#000" stroke-width="1.0"/>
<circle cx="145.20" cy="207.39" r="4.14" fill="#c8be00" stroke="#000" stroke-width="1.0"/>
<circle cx="145.34" cy="201.68" r="4.37" fill="#c8be00" stroke="#000" stroke-width="1.0"/>
<circle cx="146.89" cy="188.05" r="4.14" fill="#c8be00" stroke="#000" stroke-width="1.0"/>
<circle cx="168.30" cy="178.06" r="4.02" fill="#c8be00" stroke="#000" stroke-width="1.0"/>
<circle cx="177.65" cy="158.49" r="4.60" fill="#c8be00" stroke="#000" stroke-width="1.0"/>
<circle cx="173.62" cy="165.51" r="4.14" fill="#c8be00" stroke="#000" stroke-width="1.0"/>
<circle cx="186.64" cy="146.61" r="3.91" fill="#c8be00" stroke="#000" stroke-width="1.0"/>
<circle cx="192.52" cy="140.61" r="5.60" fill="#d42a2a" stroke="#000" stroke-width="1.0"/>
<circle cx="203.04" cy="132.20" r="5.60" fill="#008000" stroke="#000" stroke-width="1.0"/>
<circle cx="216.56" cy="124.55" r="5.60" fill="#d42a2a" stroke="#000" stroke-width="1.0"/>
<circle cx="234.88" cy="118.42" r="3.91" fill="#c8be00" stroke="#000" stroke-width="1.0"/>
<circle cx="248.69" cy="116.48" r="4.60" fill="#c8be00" stroke="#000" stroke-width="1.0"/>
<circle cx="262.64" cy="116.67" r="5.60" fill="#0000ff" stroke="#000" stroke-width="1.0"/>
<circle cx="274.54" cy="118.56" r="4.14" fill="#c8be00" stroke="#000" stroke-width="1.0"/>
<circle cx="287.71" cy="122.63" r="4.14" fill="#c8be00" stroke="#000" stroke-width="1.0"/>
<circle cx="299.99" cy="128.56" r="4.60" fill="#c8be00" stroke="#000" stroke-width="1.0"/>
<circle cx="311.36" cy="136.36" r="5.60" fill="#008000" stroke="#000" stroke-width="1.0"/>
<circle cx="317.54" cy="141.81" r="4.37" fill="#c8be00" stroke="#000" stroke-width="1.0"/>
<circle cx="324.34" cy="149.14" r="4.83" fill="#c8be00" stroke="#000" stroke-width="1.0"/>
<circle cx="334.06" cy="163.41" r="3.91" fill="#c8be00" stroke="#000" stroke-width="1.0"/>
<circle cx="338.56" cy="172.85" r="3.91" fill="#c8be00" stroke="#000" stroke-width="1.0"/>
<circle cx="341.14" cy="180.02" r="4.48" fill="#c8be00" stroke="#000" stroke-width="1.0"/>
<circle cx="344.30" cy="193.76" r="5.06" fill="#c8be00" stroke="#000" stroke-width="1.0"/>
<circle cx="345.28" cy="205.45" r="4.60" fill="#c8be00" stroke="#000" stroke-width="1.0"/>
<circle cx="344.18" cy="221.42" r="3.91" fill="#c8be00" stroke="#000" stroke-width="1.0"/>
<circle cx="341.00" cy="234.84" r="4.14" fill="#c8be00" stroke="#000" stroke-width="1.0"/>
<circle cx="335.18" cy="248.89" r="5.60" fill="#0000ff" stroke="#000" stroke-width="1.0"/>
<circle cx="328.03" cy="260.50" r="4.37" fill="#c8be00" stroke="#000" stroke-width="1.0"/>
<circle cx="321.53" cy="268.49" r="4.14" fill="#c8be00" stroke="#000" stroke-width="1.0"/>
<circle cx="314.16" cy="275.70" r="5.29" fill="#c8be00" stroke="#000" stroke-width="1.0"/>
<circle cx="296.37" cy="287.83" r="5.60" fill="#d42a2a" stroke="#000" stroke-width="1.0"/>
<circle cx="275.62" cy="295.59" r="4.14" fill="#c8be00" stroke="#000" stroke-width="1.0"/>
<circle cx="241.44" cy="297.17" r="6.21" fill="#c8be00" stroke="#000" stroke-width="1.0"/>
<circle cx="203.57" cy="282.56" r="4.25" fill="#c8be00" stroke="#000" stroke-width="1.0"/>
<circle cx="188.46" cy="269.77" r="5.60" fill="#0000ff" stroke="#000" stroke-width="1.0"/>
<circle cx="194.41" cy="275.49" r="4.25" fill="#c8be00" stroke="#000" stroke-width="1.0"/>
<circle cx="179.76" cy="259.08" r="4.60" fill="#c8be00" stroke="#000" stroke-width="1.0"/>
<circle cx="170.24" cy="241.55" r="4.83" fill="#c8be00" stroke="#000" stroke-width="1.0"/>
<circle cx="165.69" cy="227.03" r="3.79" fill="#c8be00" stroke="#000" stroke-width="1.0"/>
<circle cx="164.20" cy="218.44" r="5.60" fill="#0000ff" stroke="#000" stroke-width="1.0"/>
<circle cx="163.52" cy="205.30" r="5.17" fill="#c8be00" stroke="#000" stroke-width="1.0"/>
<circle cx="164.91" cy="191.26" r="4.14" fill="#c8be00" stroke="#000" stroke-width="1.0"/>
<circle cx="185.58" cy="183.77" r="4.02" fill="#c8be00" stroke="#000" stroke-width="1.0"/>
<circle cx="190.94" cy="171.73" r="4.60" fill="#c8be00" stroke="#000" stroke-width="1.0"/>
<circle cx="211.36" cy="148.61" r="5.70" fill="#d42a2a" stroke="#000" stroke-width="1.0"/>
<circle cx="239.04" cy="136.14" r="3.91" fill="#c8be00" stroke="#000" stroke-width="1.0"/>
<circle cx="249.84" cy="134.64" r="4.60" fill="#c8be00" stroke="#000" stroke-width="1.0"/>
<circle cx="261.12" cy="134.81" r="5.70" fill="#0000ff" stroke="#000" stroke-width="1.0"/>
<circle cx="270.88" cy="136.39" r="3.91" fill="#c8be00" stroke="#000" stroke-width="1.0"/>
<circle cx="280.93" cy="139.51" r="3.91" fill="#c8be00" stroke="#000" stroke-width="1.0"/>
<circle cx="289.76" cy="143.68" r="4.25" fill="#c8be00" stroke="#000" stroke-width="1.0"/>
<circle cx="300.35" cy="150.86" r="5.70" fill="#008000" stroke="#000" stroke-width="1.0"/>
<circle cx="309.60" cy="159.89" r="5.17" fill="#c8be00" stroke="#000" stroke-width="1.0"/>
<circle cx="318.05" cy="172.07" r="4.25" fill="#c8be00" stroke="#000" stroke-width="1.0"/>
<circle cx="322.45" cy="181.62" r="5.40" fill="#c8be00" stroke="#000" stroke-width="1.0"/>
<circle cx="326.59" cy="198.59" r="5.06" fill="#c8be00" stroke="#000" stroke-width="1.0"/>
<circle cx="326.18" cy="218.70" r="3.91" fill="#c8be00" stroke="#000" stroke-width="1.0"/>
<circle cx="323.70" cy="229.18" r="3.91" fill="#c8be00" stroke="#000" stroke-width="1.0"/>
<circle cx="317.92" cy="242.56" r="5.70" fill="#0000ff" stroke="#000" stroke-width="1.0"/>
<circle cx="308.00" cy="256.32" r="4.14" fill="#c8be00" stroke="#000" stroke-width="1.0"/>
<circle cx="302.57" cy="261.65" r="5.29" fill="#c8be00" stroke="#000" stroke-width="1.0"/>
<circle cx="288.75" cy="271.27" r="5.70" fill="#d42a2a" stroke="#000" stroke-width="1.0"/>
<circle cx="248.19" cy="279.63" r="6.21" fill="#c8be00" stroke="#000" stroke-width="1.0"/>
<circle cx="213.64" cy="267.40" r="4.25" fill="#c8be00" stroke="#000" stroke-width="1.0"/>
<circle cx="205.66" cy="261.14" r="5.70" fill="#0000ff" stroke="#000" stroke-width="1.0"/>
<circle cx="195.14" cy="249.31" r="4.60" fill="#c8be00" stroke="#000" stroke-width="1.0"/>
<circle cx="184.84" cy="228.33" r="5.70" fill="#0000ff" stroke="#000" stroke-width="1.0"/>
<circle cx="181.70" cy="206.69" r="5.17" fill="#c8be00" stroke="#000" stroke-width="1.0"/>
<circle cx="182.83" cy="194.45" r="4.25" fill="#c8be00" stroke="#000" stroke-width="1.0"/>
<circle cx="202.81" cy="189.64" r="4.02" fill="#c8be00" stroke="#000" stroke-width="1.0"/>
<circle cx="206.50" cy="181.19" r="3.91" fill="#c8be00" stroke="#000" stroke-width="1.0"/>
<circle cx="221.45" cy="163.79" r="5.80" fill="#d42a2a" stroke="#000" stroke-width="1.0"/>
<circle cx="242.60" cy="153.99" r="3.91" fill="#c8be00" stroke="#000" stroke-width="1.0"/>
<circle cx="250.60" cy="152.83" r="4.14" fill="#c8be00" stroke="#000" stroke-width="1.0"/>
<circle cx="259.34" cy="152.92" r="5.80" fill="#0000ff" stroke="#000" stroke-width="1.0"/>
<circle cx="267.22" cy="154.23" r="3.91" fill="#c8be00" stroke="#000" stroke-width="1.0"/>
<circle cx="274.37" cy="156.49" r="3.91" fill="#c8be00" stroke="#000" stroke-width="1.0"/>
<circle cx="288.40" cy="164.61" r="5.80" fill="#008000" stroke="#000" stroke-width="1.0"/>
<circle cx="306.35" cy="190.72" r="4.25" fill="#c8be00" stroke="#000" stroke-width="1.0"/>
<circle cx="308.23" cy="215.73" r="3.91" fill="#c8be00" stroke="#000" stroke-width="1.0"/>
<circle cx="306.29" cy="223.86" r="3.91" fill="#c8be00" stroke="#000" stroke-width="1.0"/>
<circle cx="270.70" cy="259.21" r="5.80" fill="#0000ff" stroke="#000" stroke-width="1.0"/>
<circle cx="218.22" cy="247.95" r="5.80" fill="#0000ff" stroke="#000" stroke-width="1.0"/>
<circle cx="201.93" cy="221.95" r="5.80" fill="#0000ff" stroke="#000" stroke-width="1.0"/>
<circle cx="219.86" cy="195.71" r="4.25" fill="#c8be00" stroke="#000" stroke-width="1.0"/>
<circle cx="228.62" cy="181.51" r="6.20" fill="#d42a2a" stroke="#000" stroke-width="1.0"/>
<circle cx="246.65" cy="171.64" r="4.14" fill="#c8be00" stroke="#000" stroke-width="1.0"/>
<circle cx="250.78" cy="170.98" r="4.14" fill="#c8be00" stroke="#000" stroke-width="1.0"/>
<circle cx="257.83" cy="170.96" r="6.20" fill="#0000ff" stroke="#000" stroke-width="1.0"/>
<circle cx="267.68" cy="173.31" r="4.14" fill="#c8be00" stroke="#000" stroke-width="1.0"/>
<circle cx="276.86" cy="178.56" r="6.20" fill="#008000" stroke="#000" stroke-width="1.0"/>
<circle cx="289.02" cy="195.95" r="5.06" fill="#c8be00" stroke="#000" stroke-width="1.0"/>
<circle cx="290.33" cy="213.02" r="4.14" fill="#c8be00" stroke="#000" stroke-width="1.0"/>
<circle cx="288.96" cy="218.63" r="4.14" fill="#c8be00" stroke="#000" stroke-width="1.0"/>
<circle cx="244.61" cy="242.26" r="6.20" fill="#0000ff" stroke="#000" stroke-width="1.0"/>
<circle cx="236.20" cy="207.20" r="5.40" fill="#c8be00" stroke="#000" stroke-width="1.0"/>
<circle cx="254.4" cy="207.2" r="1.5" fill="#c8be00"/>
<text x="366.71" y="74.30" transform="rotate(40.2 366.71 74.30)" text-anchor="middle" dominant-baseline="central" class="cl" fill="#143c14" stroke="#143c14" stroke-width="0.15">p__Bacteroidetes</text>
<text x="358.96" y="83.47" transform="rotate(40.2 358.96 83.47)" text-anchor="middle" dominant-baseline="central" class="cl" fill="#143c14" stroke="#143c14" stroke-width="0.15">c__Bacteroidia</text>
<text x="354.59" y="93.56" transform="rotate(41.4 354.59 93.56)" text-anchor="middle" dominant-baseline="central" class="cl" fill="#143c14" stroke="#143c14" stroke-width="0.15">c</text>
<text x="342.19" y="98.79" transform="rotate(39.0 342.19 98.79)" text-anchor="middle" dominant-baseline="central" class="cl" fill="#143c14" stroke="#143c14" stroke-width="0.15">b</text>
<text x="334.95" y="107.73" transform="rotate(39.0 334.95 107.73)" text-anchor="middle" dominant-baseline="central" class="cl" fill="#143c14" stroke="#143c14" stroke-width="0.15">a</text>
<text x="281.32" y="35.29" transform="rotate(8.9 281.32 35.29)" text-anchor="middle" dominant-baseline="central" class="cl" fill="#14146a" stroke="#14146a" stroke-width="0.15">p__Cyanobacteria</text>
<text x="268.80" y="45.84" transform="rotate(5.1 268.80 45.84)" text-anchor="middle" dominant-baseline="central" class="cl" fill="#14146a" stroke="#14146a" stroke-width="0.15">c__Sericytochromatia</text>
<text x="267.87" y="56.30" transform="rotate(5.1 267.87 56.30)" text-anchor="middle" dominant-baseline="central" class="cl" fill="#14146a" stroke="#14146a" stroke-width="0.15">f</text>
<text x="266.80" y="68.25" transform="rotate(5.1 266.80 68.25)" text-anchor="middle" dominant-baseline="central" class="cl" fill="#14146a" stroke="#14146a" stroke-width="0.15">e</text>
<text x="265.78" y="79.71" transform="rotate(5.1 265.78 79.71)" text-anchor="middle" dominant-baseline="central" class="cl" fill="#14146a" stroke="#14146a" stroke-width="0.15">d</text>
<text x="137.97" y="77.89" transform="rotate(-42.0 137.97 77.89)" text-anchor="middle" dominant-baseline="central" class="cl" fill="#7a1020" stroke="#7a1020" stroke-width="0.15">p__Firmicutes</text>
<text x="161.83" y="74.25" transform="rotate(-34.9 161.83 74.25)" text-anchor="middle" dominant-baseline="central" class="cl" fill="#7a1020" stroke="#7a1020" stroke-width="0.15">c__Bacilli</text>
<text x="167.83" y="82.87" transform="rotate(-34.9 167.83 82.87)" text-anchor="middle" dominant-baseline="central" class="cl" fill="#7a1020" stroke="#7a1020" stroke-width="0.15">m</text>
<text x="196.88" y="80.11" transform="rotate(-24.3 196.88 80.11)" text-anchor="middle" dominant-baseline="central" class="cl" fill="#7a1020" stroke="#7a1020" stroke-width="0.15">h</text>
<text x="201.12" y="90.82" transform="rotate(-24.6 201.12 90.82)" text-anchor="middle" dominant-baseline="central" class="cl" fill="#7a1020" stroke="#7a1020" stroke-width="0.15">g</text>
<text x="175.59" y="92.10" transform="rotate(-34.4 175.59 92.10)" text-anchor="middle" dominant-baseline="central" class="cl" fill="#143c14" stroke="#143c14" stroke-width="0.15">j</text>
<text x="186.76" y="98.53" transform="rotate(-31.9 186.76 98.53)" text-anchor="middle" dominant-baseline="central" class="cl" fill="#143c14" stroke="#143c14" stroke-width="0.15">i</text>
<text x="160.60" y="103.94" transform="rotate(-42.2 160.60 103.94)" text-anchor="middle" dominant-baseline="central" class="cl" fill="#7a1020" stroke="#7a1020" stroke-width="0.15">l</text>
<text x="165.64" y="114.97" transform="rotate(-43.9 165.64 114.97)" text-anchor="middle" dominant-baseline="central" class="cl" fill="#7a1020" stroke="#7a1020" stroke-width="0.15">k</text>
<text x="202.95" y="373.42" transform="rotate(197.2 202.95 373.42)" text-anchor="middle" dominant-baseline="central" class="cl" fill="#14146a" stroke="#14146a" stroke-width="0.15">p__Proteobacteria</text>
<text x="96.88" y="245.02" transform="rotate(256.5 96.88 245.02)" text-anchor="middle" dominant-baseline="central" class="cl" fill="#14146a" stroke="#14146a" stroke-width="0.15">c__Alphaproteobacteria</text>
<text x="108.59" y="248.32" transform="rotate(254.2 108.59 248.32)" text-anchor="middle" dominant-baseline="central" class="cl" fill="#14146a" stroke="#14146a" stroke-width="0.15">p</text>
<text x="116.02" y="224.80" transform="rotate(262.8 116.02 224.80)" text-anchor="middle" dominant-baseline="central" class="cl" fill="#14146a" stroke="#14146a" stroke-width="0.15">o</text>
<text x="127.94" y="227.00" transform="rotate(261.1 127.94 227.00)" text-anchor="middle" dominant-baseline="central" class="cl" fill="#14146a" stroke="#14146a" stroke-width="0.15">n</text>
<text x="141.76" y="323.63" transform="rotate(224.1 141.76 323.63)" text-anchor="middle" dominant-baseline="central" class="cl" fill="#14146a" stroke="#14146a" stroke-width="0.15">c__Deltaproteobacteria</text>
<text x="149.06" y="316.09" transform="rotate(224.1 149.06 316.09)" text-anchor="middle" dominant-baseline="central" class="cl" fill="#14146a" stroke="#14146a" stroke-width="0.15">s</text>
<text x="153.38" y="303.40" transform="rotate(226.4 153.38 303.40)" text-anchor="middle" dominant-baseline="central" class="cl" fill="#14146a" stroke="#14146a" stroke-width="0.15">r</text>
<text x="161.71" y="295.47" transform="rotate(226.4 161.71 295.47)" text-anchor="middle" dominant-baseline="central" class="cl" fill="#14146a" stroke="#14146a" stroke-width="0.15">q</text>
<text x="298.78" y="363.00" transform="rotate(164.1 298.78 363.00)" text-anchor="middle" dominant-baseline="central" class="cl" fill="#14146a" stroke="#14146a" stroke-width="0.15">c__Gammaproteobacteria</text>
<text x="202.54" y="324.22" transform="rotate(203.9 202.54 324.22)" text-anchor="middle" dominant-baseline="central" class="cl" fill="#14146a" stroke="#14146a" stroke-width="0.15">t</text>
<text x="217.62" y="329.80" transform="rotate(196.7 217.62 329.80)" text-anchor="middle" dominant-baseline="central" class="cl" fill="#7a1020" stroke="#7a1020" stroke-width="0.15">u</text>
<text x="243.91" y="334.77" transform="rotate(184.7 243.91 334.77)" text-anchor="middle" dominant-baseline="central" class="cl" fill="#143c14" stroke="#143c14" stroke-width="0.15">v</text>
<text x="255.07" y="335.20" transform="rotate(179.7 255.07 335.20)" text-anchor="middle" dominant-baseline="central" class="cl" fill="#14146a" stroke="#14146a" stroke-width="0.15">w</text>
<text x="323.06" y="342.25" transform="rotate(153.1 323.06 342.25)" text-anchor="middle" dominant-baseline="central" class="cl" fill="#7a1020" stroke="#7a1020" stroke-width="0.15">z</text>
<text x="317.62" y="331.55" transform="rotate(153.1 317.62 331.55)" text-anchor="middle" dominant-baseline="central" class="cl" fill="#7a1020" stroke="#7a1020" stroke-width="0.15">y</text>
<text x="306.05" y="324.31" transform="rotate(156.2 306.05 324.31)" text-anchor="middle" dominant-baseline="central" class="cl" fill="#7a1020" stroke="#7a1020" stroke-width="0.15">x</text>
<text x="385.40" y="283.29" transform="rotate(120.2 385.40 283.29)" text-anchor="middle" dominant-baseline="central" class="cl" fill="#14146a" stroke="#14146a" stroke-width="0.15">a3</text>
<text x="378.31" y="271.29" transform="rotate(117.3 378.31 271.29)" text-anchor="middle" dominant-baseline="central" class="cl" fill="#14146a" stroke="#14146a" stroke-width="0.15">a2</text>
<text x="364.80" y="271.97" transform="rotate(120.4 364.80 271.97)" text-anchor="middle" dominant-baseline="central" class="cl" fill="#14146a" stroke="#14146a" stroke-width="0.15">a0</text>
<text x="367.83" y="266.50" transform="rotate(117.6 367.83 266.50)" text-anchor="middle" dominant-baseline="central" class="cl" fill="#14146a" stroke="#14146a" stroke-width="0.15">a1</text>
<rect x="2" y="31.0" width="29" height="10" fill="#cc2828"/>
<text x="42" y="41.0" class="ll">T1</text>
<rect x="2" y="51.1" width="29" height="10" fill="#008000"/>
<text x="42" y="61.1" class="ll">T5</text>
<rect x="2" y="71.2" width="29" height="10" fill="#0000ff"/>
<text x="42" y="81.2" class="ll">T8</text>
<text x="3.6" y="14" class="pl">(d)</text>
<rect x="465.5" y="21.50" width="18" height="6.4" fill="#008000" stroke="#000" stroke-width="1.1"/>
<text transform="translate(490,28.30) scale(0.888,1)" class="rl">a: g__Chryseobacterium</text>
<rect x="465.5" y="33.57" width="18" height="6.4" fill="#008000" stroke="#000" stroke-width="1.1"/>
<text transform="translate(490,40.37) scale(0.888,1)" class="rl">b: f__Weeksellaceae</text>
<rect x="465.5" y="45.64" width="18" height="6.4" fill="#008000" stroke="#000" stroke-width="1.1"/>
<text transform="translate(490,52.44) scale(0.888,1)" class="rl">c: o__Flavobacteriales</text>
<rect x="465.5" y="57.71" width="18" height="6.4" fill="#0000ff" stroke="#000" stroke-width="1.1"/>
<text transform="translate(490,64.51) scale(0.888,1)" class="rl">d: g__uncultured_bacterium_c_Sericytochromatia</text>
<rect x="465.5" y="69.78" width="18" height="6.4" fill="#0000ff" stroke="#000" stroke-width="1.1"/>
<text transform="translate(490,76.58) scale(0.888,1)" class="rl">e: f__uncultured_bacterium_c_Sericytochromatia</text>
<rect x="465.5" y="81.85" width="18" height="6.4" fill="#0000ff" stroke="#000" stroke-width="1.1"/>
<text transform="translate(490,88.65) scale(0.888,1)" class="rl">f: o__uncultured_bacterium_c_Sericytochromatia</text>
<rect x="465.5" y="93.92" width="18" height="6.4" fill="#cc2828" stroke="#000" stroke-width="1.1"/>
<text transform="translate(490,100.72) scale(0.888,1)" class="rl">g: g__Bacillus</text>
<rect x="465.5" y="105.99" width="18" height="6.4" fill="#cc2828" stroke="#000" stroke-width="1.1"/>
<text transform="translate(490,112.79) scale(0.888,1)" class="rl">h: f__Bacillaceae</text>
<rect x="465.5" y="118.06" width="18" height="6.4" fill="#008000" stroke="#000" stroke-width="1.1"/>
<text transform="translate(490,124.86) scale(0.888,1)" class="rl">i: g__Brevibacillus</text>
<rect x="465.5" y="130.13" width="18" height="6.4" fill="#008000" stroke="#000" stroke-width="1.1"/>
<text transform="translate(490,136.93) scale(0.888,1)" class="rl">j: f__Paenibacillaceae</text>
<rect x="465.5" y="142.20" width="18" height="6.4" fill="#cc2828" stroke="#000" stroke-width="1.1"/>
<text transform="translate(490,149.00) scale(0.888,1)" class="rl">k: g__Lysinibacillus</text>
<rect x="465.5" y="154.27" width="18" height="6.4" fill="#cc2828" stroke="#000" stroke-width="1.1"/>
<text transform="translate(490,161.07) scale(0.888,1)" class="rl">l: f__Planococcaceae</text>
<rect x="465.5" y="166.34" width="18" height="6.4" fill="#cc2828" stroke="#000" stroke-width="1.1"/>
<text transform="translate(490,173.14) scale(0.888,1)" class="rl">m: o__Bacillales</text>
<rect x="465.5" y="178.41" width="18" height="6.4" fill="#0000ff" stroke="#000" stroke-width="1.1"/>
<text transform="translate(490,185.21) scale(0.888,1)" class="rl">n: g__Microvirga</text>
<rect x="465.5" y="190.48" width="18" height="6.4" fill="#0000ff" stroke="#000" stroke-width="1.1"/>
<text transform="translate(490,197.28) scale(0.888,1)" class="rl">o: f__Beijerinckiaceae</text>
<rect x="465.5" y="202.55" width="18" height="6.4" fill="#0000ff" stroke="#000" stroke-width="1.1"/>
<text transform="translate(490,209.35) scale(0.888,1)" class="rl">p: o__Rhizobiales</text>
<rect x="465.5" y="214.62" width="18" height="6.4" fill="#0000ff" stroke="#000" stroke-width="1.1"/>
<text transform="translate(490,221.42) scale(0.888,1)" class="rl">q: g__Anaeromyxobacter</text>
<rect x="465.5" y="226.69" width="18" height="6.4" fill="#0000ff" stroke="#000" stroke-width="1.1"/>
<text transform="translate(490,233.49) scale(0.888,1)" class="rl">r: f__Archangiaceae</text>
<rect x="465.5" y="238.76" width="18" height="6.4" fill="#0000ff" stroke="#000" stroke-width="1.1"/>
<text transform="translate(490,245.56) scale(0.888,1)" class="rl">s: o__Myxococcales</text>
<rect x="465.5" y="250.83" width="18" height="6.4" fill="#0000ff" stroke="#000" stroke-width="1.1"/>
<text transform="translate(490,257.63) scale(0.888,1)" class="rl">t: g__Acidovorax</text>
<rect x="465.5" y="262.90" width="18" height="6.4" fill="#cc2828" stroke="#000" stroke-width="1.1"/>
<text transform="translate(490,269.70) scale(0.888,1)" class="rl">u: g__Comamonas</text>
<rect x="465.5" y="274.97" width="18" height="6.4" fill="#008000" stroke="#000" stroke-width="1.1"/>
<text transform="translate(490,281.77) scale(0.888,1)" class="rl">v: g__Massilia</text>
<rect x="465.5" y="287.04" width="18" height="6.4" fill="#0000ff" stroke="#000" stroke-width="1.1"/>
<text transform="translate(490,293.84) scale(0.888,1)" class="rl">w: g__Pandoraea</text>
<rect x="465.5" y="299.11" width="18" height="6.4" fill="#cc2828" stroke="#000" stroke-width="1.1"/>
<text transform="translate(490,305.91) scale(0.888,1)" class="rl">x: g__Escherichia_Shigella</text>
<rect x="465.5" y="311.18" width="18" height="6.4" fill="#cc2828" stroke="#000" stroke-width="1.1"/>
<text transform="translate(490,317.98) scale(0.888,1)" class="rl">y: f__Enterobacteriaceae</text>
<rect x="465.5" y="323.25" width="18" height="6.4" fill="#cc2828" stroke="#000" stroke-width="1.1"/>
<text transform="translate(490,330.05) scale(0.888,1)" class="rl">z: o__Enterobacteriales</text>
<rect x="465.5" y="335.32" width="18" height="6.4" fill="#0000ff" stroke="#000" stroke-width="1.1"/>
<text transform="translate(490,342.12) scale(0.888,1)" class="rl">a0: g__Lysobacter</text>
<rect x="465.5" y="347.39" width="18" height="6.4" fill="#0000ff" stroke="#000" stroke-width="1.1"/>
<text transform="translate(490,354.19) scale(0.888,1)" class="rl">a1: g__Stenotrophomonas</text>
<rect x="465.5" y="359.46" width="18" height="6.4" fill="#0000ff" stroke="#000" stroke-width="1.1"/>
<text transform="translate(490,366.26) scale(0.888,1)" class="rl">a2: f__Xanthomonadaceae</text>
<rect x="465.5" y="371.53" width="18" height="6.4" fill="#0000ff" stroke="#000" stroke-width="1.1"/>
<text transform="translate(490,378.33) scale(0.888,1)" class="rl">a3: o__Xanthomonadales</text>
<rect x="229.9" y="477.80" width="386.9" height="14.2" fill="#0000ff" stroke="#000" stroke-width="1.3"/>
<text x="219.3" y="490.90" text-anchor="end" class="bl">p__Proteobacteria</text>
<rect x="229.9" y="496.32" width="380.0" height="14.2" fill="#0000ff" stroke="#000" stroke-width="1.3"/>
<text x="219.3" y="509.38" text-anchor="end" class="bl">o__Xanthomonadales</text>
<rect x="229.9" y="514.84" width="377.6" height="14.2" fill="#0000ff" stroke="#000" stroke-width="1.3"/>
<text x="219.3" y="527.86" text-anchor="end" class="bl">f__Xanthomonadaceae</text>
<rect x="229.9" y="533.36" width="375.1" height="14.2" fill="#0000ff" stroke="#000" stroke-width="1.3"/>
<text x="219.3" y="546.34" text-anchor="end" class="bl">g__Stenotrophomonas</text>
<rect x="229.9" y="551.88" width="372.4" height="14.2" fill="#0000ff" stroke="#000" stroke-width="1.3"/>
<text x="219.3" y="564.82" text-anchor="end" class="bl">c__Gammaproteobacteria</text>
<rect x="229.9" y="570.40" width="360.4" height="14.2" fill="#0000ff" stroke="#000" stroke-width="1.3"/>
<text x="219.3" y="583.30" text-anchor="end" class="bl">c__Sericytochromatia</text>
<rect x="229.9" y="588.92" width="360.1" height="14.2" fill="#0000ff" stroke="#000" stroke-width="1.3"/>
<text x="219.3" y="601.78" text-anchor="end" class="bl">p__Cyanobacteria</text>
<rect x="229.9" y="607.44" width="360.1" height="14.2" fill="#0000ff" stroke="#000" stroke-width="1.3"/>
<text x="219.3" y="620.26" text-anchor="end" class="bl">g__uncultured_bacterium_c_Sericytochromatia</text>
<rect x="229.9" y="625.96" width="359.4" height="14.2" fill="#0000ff" stroke="#000" stroke-width="1.3"/>
<text x="219.3" y="638.74" text-anchor="end" class="bl">o__uncultured_bacterium_c_Sericytochromatia</text>
<rect x="229.9" y="644.48" width="358.5" height="14.2" fill="#0000ff" stroke="#000" stroke-width="1.3"/>
<text x="219.3" y="657.22" text-anchor="end" class="bl">f__uncultured_bacterium_c_Sericytochromatia</text>
<rect x="229.9" y="663.00" width="357.8" height="14.2" fill="#0000ff" stroke="#000" stroke-width="1.3"/>
<text x="219.3" y="675.70" text-anchor="end" class="bl">g__Acidovorax</text>
<rect x="229.9" y="681.52" width="341.5" height="14.2" fill="#0000ff" stroke="#000" stroke-width="1.3"/>
<text x="219.3" y="694.18" text-anchor="end" class="bl">c__Alphaproteobacteria</text>
<rect x="229.9" y="700.04" width="335.0" height="14.2" fill="#0000ff" stroke="#000" stroke-width="1.3"/>
<text x="219.3" y="712.66" text-anchor="end" class="bl">o__Rhizobiales</text>
<rect x="229.9" y="718.56" width="327.6" height="14.2" fill="#0000ff" stroke="#000" stroke-width="1.3"/>
<text x="219.3" y="731.14" text-anchor="end" class="bl">g__Microvirga</text>
<rect x="229.9" y="737.08" width="327.4" height="14.2" fill="#0000ff" stroke="#000" stroke-width="1.3"/>
<text x="219.3" y="749.62" text-anchor="end" class="bl">f__Beijerinckiaceae</text>
<rect x="229.9" y="755.60" width="309.3" height="14.2" fill="#0000ff" stroke="#000" stroke-width="1.3"/>
<text x="219.3" y="768.10" text-anchor="end" class="bl">g__Pandoraea</text>
<rect x="229.9" y="774.12" width="307.0" height="14.2" fill="#0000ff" stroke="#000" stroke-width="1.3"/>
<text x="219.3" y="786.58" text-anchor="end" class="bl">o__Myxococcales</text>
<rect x="229.9" y="792.64" width="305.7" height="14.2" fill="#0000ff" stroke="#000" stroke-width="1.3"/>
<text x="219.3" y="805.06" text-anchor="end" class="bl">g__Lysobacter</text>
<rect x="229.9" y="811.16" width="305.3" height="14.2" fill="#0000ff" stroke="#000" stroke-width="1.3"/>
<text x="219.3" y="823.54" text-anchor="end" class="bl">c__Deltaproteobacteria</text>
<rect x="229.9" y="829.68" width="303.0" height="14.2" fill="#0000ff" stroke="#000" stroke-width="1.3"/>
<text x="219.3" y="842.02" text-anchor="end" class="bl">f__Archangiaceae</text>
<rect x="229.9" y="848.20" width="302.1" height="14.2" fill="#0000ff" stroke="#000" stroke-width="1.3"/>
<text x="219.3" y="860.50" text-anchor="end" class="bl">g__Anaeromyxobacter</text>
<rect x="229.9" y="866.72" width="388.1" height="14.2" fill="#008000" stroke="#000" stroke-width="1.3"/>
<text x="219.3" y="878.98" text-anchor="end" class="bl">c__Bacteroidia</text>
<rect x="229.9" y="885.24" width="387.4" height="14.2" fill="#008000" stroke="#000" stroke-width="1.3"/>
<text x="219.3" y="897.46" text-anchor="end" class="bl">p__Bacteroidetes</text>
<rect x="229.9" y="903.76" width="387.1" height="14.2" fill="#008000" stroke="#000" stroke-width="1.3"/>
<text x="219.3" y="915.94" text-anchor="end" class="bl">g__Chryseobacterium</text>
<rect x="229.9" y="922.28" width="386.9" height="14.2" fill="#008000" stroke="#000" stroke-width="1.3"/>
<text x="219.3" y="934.42" text-anchor="end" class="bl">o__Flavobacteriales</text>
<rect x="229.9" y="940.80" width="385.8" height="14.2" fill="#008000" stroke="#000" stroke-width="1.3"/>
<text x="219.3" y="952.90" text-anchor="end" class="bl">f__Weeksellaceae</text>
<rect x="229.9" y="959.32" width="367.0" height="14.2" fill="#008000" stroke="#000" stroke-width="1.3"/>
<text x="219.3" y="971.38" text-anchor="end" class="bl">g__Massilia</text>
<rect x="229.9" y="977.84" width="362.8" height="14.2" fill="#008000" stroke="#000" stroke-width="1.3"/>
<text x="219.3" y="989.86" text-anchor="end" class="bl">g__Brevibacillus</text>
<rect x="229.9" y="996.36" width="360.1" height="14.2" fill="#008000" stroke="#000" stroke-width="1.3"/>
<text x="219.3" y="1008.34" text-anchor="end" class="bl">f__Paenibacillaceae</text>
<rect x="229.9" y="1014.88" width="394.1" height="14.2" fill="#cc2828" stroke="#000" stroke-width="1.3"/>
<text x="219.3" y="1026.82" text-anchor="end" class="bl">o__Bacillales</text>
<rect x="229.9" y="1033.40" width="394.1" height="14.2" fill="#cc2828" stroke="#000" stroke-width="1.3"/>
<text x="219.3" y="1045.30" text-anchor="end" class="bl">c__Bacilli</text>
<rect x="229.9" y="1051.92" width="394.1" height="14.2" fill="#cc2828" stroke="#000" stroke-width="1.3"/>
<text x="219.3" y="1063.78" text-anchor="end" class="bl">p__Firmicutes</text>
<rect x="229.9" y="1070.44" width="374.6" height="14.2" fill="#cc2828" stroke="#000" stroke-width="1.3"/>
<text x="219.3" y="1082.26" text-anchor="end" class="bl">f__Bacillaceae</text>
<rect x="229.9" y="1088.96" width="370.9" height="14.2" fill="#cc2828" stroke="#000" stroke-width="1.3"/>
<text x="219.3" y="1100.74" text-anchor="end" class="bl">g__Bacillus</text>
<rect x="229.9" y="1107.48" width="361.0" height="14.2" fill="#cc2828" stroke="#000" stroke-width="1.3"/>
<text x="219.3" y="1119.22" text-anchor="end" class="bl">f__Planococcaceae</text>
<rect x="229.9" y="1126.00" width="360.1" height="14.2" fill="#cc2828" stroke="#000" stroke-width="1.3"/>
<text x="219.3" y="1137.70" text-anchor="end" class="bl">g__Lysinibacillus</text>
<rect x="229.9" y="1144.52" width="357.9" height="14.2" fill="#cc2828" stroke="#000" stroke-width="1.3"/>
<text x="219.3" y="1156.18" text-anchor="end" class="bl">f__Enterobacteriaceae</text>
<rect x="229.9" y="1163.04" width="356.1" height="14.2" fill="#cc2828" stroke="#000" stroke-width="1.3"/>
<text x="219.3" y="1174.66" text-anchor="end" class="bl">o__Enterobacteriales</text>
<rect x="229.9" y="1181.56" width="355.0" height="14.2" fill="#cc2828" stroke="#000" stroke-width="1.3"/>
<text x="219.3" y="1193.14" text-anchor="end" class="bl">g__Escherichia_Shigella</text>
<rect x="229.9" y="1200.08" width="342.0" height="14.2" fill="#cc2828" stroke="#000" stroke-width="1.3"/>
<text x="219.3" y="1211.62" text-anchor="end" class="bl">g__Comamonas</text>
<line x1="229.3" y1="467" x2="229.3" y2="1226" stroke="#111" stroke-width="0.9" stroke-dasharray="2,1.4"/>
<line x1="229.3" y1="1225.3" x2="229.3" y2="1230" stroke="#111" stroke-width="1"/>
<line x1="304.1" y1="467" x2="304.1" y2="1226" stroke="#111" stroke-width="0.9" stroke-dasharray="2,1.4"/>
<line x1="304.1" y1="1225.3" x2="304.1" y2="1230" stroke="#111" stroke-width="1"/>
<line x1="378.9" y1="467" x2="378.9" y2="1226" stroke="#111" stroke-width="0.9" stroke-dasharray="2,1.4"/>
<line x1="378.9" y1="1225.3" x2="378.9" y2="1230" stroke="#111" stroke-width="1"/>
<line x1="453.7" y1="467" x2="453.7" y2="1226" stroke="#111" stroke-width="0.9" stroke-dasharray="2,1.4"/>
<line x1="453.7" y1="1225.3" x2="453.7" y2="1230" stroke="#111" stroke-width="1"/>
<line x1="528.5" y1="467" x2="528.5" y2="1226" stroke="#111" stroke-width="0.9" stroke-dasharray="2,1.4"/>
<line x1="528.5" y1="1225.3" x2="528.5" y2="1230" stroke="#111" stroke-width="1"/>
<text x="229.3" y="1244" text-anchor="middle" class="tk">0</text>
<text x="304.1" y="1244" text-anchor="middle" class="tk">1</text>
<text x="378.9" y="1244" text-anchor="middle" class="tk">2</text>
<text x="453.7" y="1244" text-anchor="middle" class="tk">3</text>
<text x="528.5" y="1244" text-anchor="middle" class="tk">4</text>
<text x="436.4" y="1262.6" text-anchor="middle" class="ax">LDA SCORE (log 10)</text>
<rect x="234.6" y="448.6" width="29.8" height="8.8" fill="#cc2828" stroke="#000" stroke-width="1.2"/>
<text x="277.5" y="457.8" class="lg">T1</text>
<rect x="323.6" y="448.6" width="29.8" height="8.8" fill="#008000" stroke="#000" stroke-width="1.2"/>
<text x="366.5" y="457.8" class="lg">T5</text>
<rect x="412.6" y="448.6" width="29.8" height="8.8" fill="#0000ff" stroke="#000" stroke-width="1.2"/>
<text x="455.5" y="457.8" class="lg">T8</text>
<text x="4.5" y="455" class="pl">(e)</text>
</svg>
</body></html>
